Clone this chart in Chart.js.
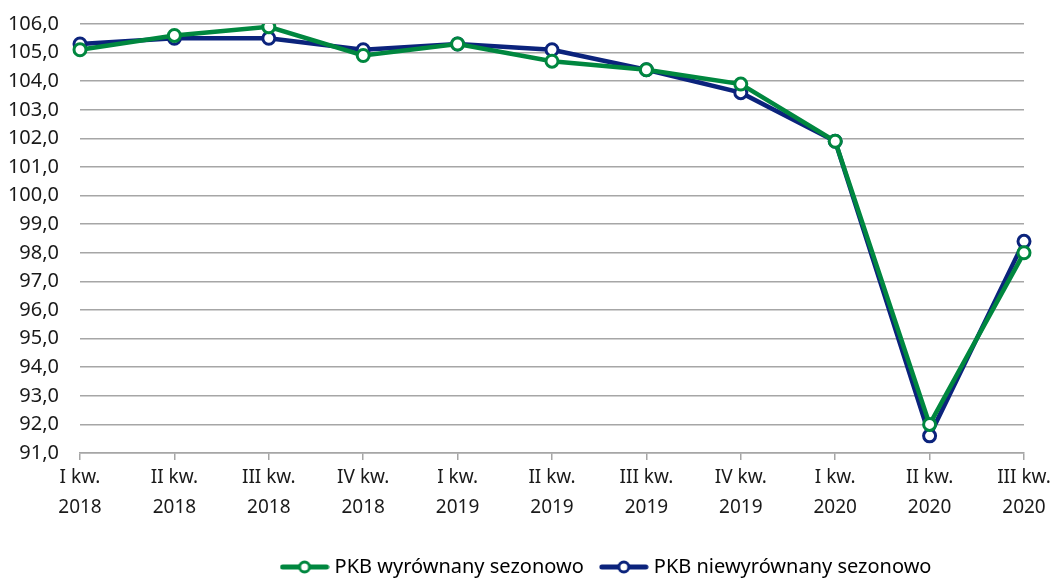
<!DOCTYPE html>
<html>
<head>
<meta charset="utf-8">
<script src="https://cdn.jsdelivr.net/npm/chart.js@4/dist/chart.umd.min.js"></script>
<style>
  html, body { margin: 0; padding: 0; background: #fff; }
  #wrap { width: 1054px; height: 578px; position: relative; }
</style>
</head>
<body>
<div id="wrap"><canvas id="lineChart"></canvas></div>
<script>
// Kwartały
const labels = [
    ['I kw.', '2018'], ['II kw.', '2018'], ['III kw.', '2018'], ['IV kw.', '2018'],
    ['I kw.', '2019'], ['II kw.', '2019'], ['III kw.', '2019'], ['IV kw.', '2019'],
    ['I kw.', '2020'], ['II kw.', '2020'], ['III kw.', '2020']
];
// PKB wyrównany sezonowo
const sezonowo = [105.1, 105.6, 105.9, 104.9, 105.3, 104.7, 104.4, 103.9, 101.9, 92.0, 98.0];
// PKB niewyrównany sezonowo
const niesezonowo = [105.3, 105.5, 105.5, 105.1, 105.3, 105.1, 104.4, 103.6, 101.9, 91.6, 98.4];
const yMin = 91, yMax = 106;

const green = '#00873f';
const navy = '#0b237c';
const fontFamily = "'Noto Sans', sans-serif";

// znacznik legendy: linia z kółkiem
function legendMarker(color) {
    const c = document.createElement('canvas');
    c.width = 50; c.height = 16;
    const ctx = c.getContext('2d');
    ctx.strokeStyle = color;
    ctx.lineWidth = 5;
    ctx.lineCap = 'round';
    ctx.beginPath();
    ctx.moveTo(3, 8); ctx.lineTo(47, 8);
    ctx.stroke();
    ctx.beginPath();
    ctx.arc(25, 8, 5, 0, Math.PI * 2);
    ctx.fillStyle = '#fff';
    ctx.fill();
    ctx.lineWidth = 3;
    ctx.stroke();
    return c;
}

// przesunięcie legendy (w oryginale nie jest wyśrodkowana)
const legendShift = {
    id: 'legendShift',
    afterLayout(chart) {
        const lg = chart.legend;
        if (!lg) return;
        lg.left += 96; lg.right += 96;
        lg.top += 9; lg.bottom += 9;
    }
};

const chart = new Chart(document.getElementById('lineChart'), {
    type: 'line',
    data: {
        labels: labels,
        datasets: [{
            label: 'PKB wyrównany sezonowo',
            data: sezonowo,
            borderColor: green,
            backgroundColor: '#fff',
            borderWidth: 4.5,
            pointRadius: 6,
            pointBorderWidth: 3,
            pointBackgroundColor: '#fff',
            pointBorderColor: green,
            tension: 0
        }, {
            label: 'PKB niewyrównany sezonowo',
            data: niesezonowo,
            borderColor: navy,
            backgroundColor: '#fff',
            borderWidth: 4.5,
            pointRadius: 6,
            pointBorderWidth: 3,
            pointBackgroundColor: '#fff',
            pointBorderColor: navy,
            tension: 0
        }]
    },
    plugins: [legendShift],
    options: {
        responsive: true,
        maintainAspectRatio: false,
        animation: false,
        layout: { padding: { top: 24, right: 30, left: 0, bottom: 0 } },
        plugins: {
            legend: {
                position: 'bottom',
                labels: {
                    color: '#1a1a1a',
                    font: { size: 20, family: fontFamily },
                    usePointStyle: true,
                    pointStyleWidth: 40,
                    padding: 20,
                    generateLabels: function(chart) {
                        return chart.data.datasets.map(function(ds, i) {
                            return {
                                text: ds.label,
                                pointStyle: legendMarker(ds.borderColor),
                                fillStyle: ds.borderColor,
                                strokeStyle: ds.borderColor,
                                lineWidth: 0,
                                datasetIndex: i,
                                hidden: false
                            };
                        });
                    }
                }
            },
            tooltip: { enabled: false }
        },
        scales: {
            y: {
                min: yMin,
                max: yMax,
                ticks: {
                    stepSize: 1,
                    color: '#1a1a1a',
                    padding: 21,
                    font: { size: 20, family: fontFamily },
                    callback: function(value) { return value.toFixed(1).replace('.', ','); }
                },
                grid: { color: '#a6a6a6', lineWidth: 1.5, drawTicks: false },
                border: { display: false },
                afterFit: function(scale) {
                    scale.width = 80;
                    scale.paddingTop = 0;
                    scale.paddingBottom = 0;
                }
            },
            x: {
                offset: false,
                ticks: {
                    color: '#1a1a1a',
                    padding: 3,
                    maxRotation: 0,
                    autoSkip: false,
                    font: { size: 19, family: fontFamily, lineHeight: 1.55 }
                },
                grid: { drawOnChartArea: false, drawTicks: true, tickLength: 7, color: '#a6a6a6', lineWidth: 1.5 },
                border: { color: '#a6a6a6', width: 1.5 },
                afterFit: function(scale) { scale.height = 75; }
            }
        }
    }
});
</script>
</body>
</html>
